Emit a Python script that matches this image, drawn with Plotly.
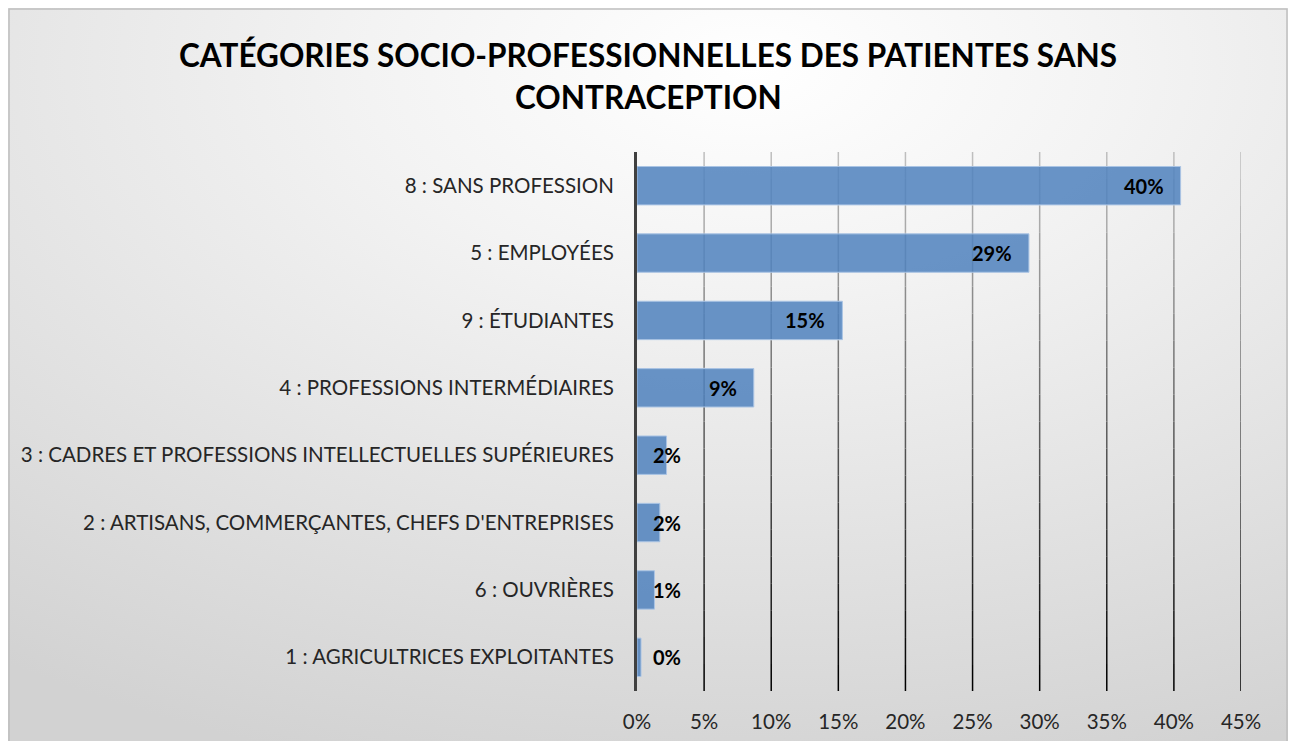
import plotly.graph_objects as go

categories = [
    "1 : AGRICULTRICES EXPLOITANTES",
    "6 : OUVRIÈRES",
    "2 : ARTISANS, COMMERÇANTES, CHEFS D'ENTREPRISES",
    "3 : CADRES ET PROFESSIONS INTELLECTUELLES SUPÉRIEURES",
    "4 : PROFESSIONS INTERMÉDIAIRES",
    "9 : ÉTUDIANTES",
    "5 : EMPLOYÉES",
    "8 : SANS PROFESSION",
]
values = [0.3, 1.3, 1.7, 2.2, 8.7, 15.3, 29.2, 40.5]
labels = ["0%", "1%", "2%", "2%", "9%", "15%", "29%", "40%"]
x_ticks = [0, 5, 10, 15, 20, 25, 30, 35, 40, 45]
x_tick_text = ["0%", "5%", "10%", "15%", "20%", "25%", "30%", "35%", "40%", "45%"]

# the page body has an 8px margin, so the figure is a bit smaller than the window
OFF = 8
W, H = 1280, 733
L, R, T, B = 629, 47, 144, 50
pw, ph = W - L - R, H - T - B

def px(x):
    # page pixel -> paper x
    return (x - OFF - L) / pw

def py(y):
    # page pixel -> paper y
    return (H - B - (y - OFF)) / ph

FONT = "Lato, 'Open Sans', sans-serif"

# background gradient (svg data uri as layout image)
bg_svg = (
    "data:image/svg+xml;utf8,"
    "<svg xmlns='http://www.w3.org/2000/svg' width='1296' height='749'>"
    "<defs><radialGradient id='g' cx='0.58' cy='0.08' r='1.0'>"
    "<stop offset='0' stop-color='%23ffffff'/>"
    "<stop offset='0.3' stop-color='%23f3f3f3'/>"
    "<stop offset='1' stop-color='%23d2d2d2'/>"
    "</radialGradient></defs>"
    "<rect width='1296' height='749' fill='url(%23g)'/></svg>"
)

fig = go.Figure()

fig.add_trace(go.Bar(
    y=categories,
    x=values,
    orientation="h",
    marker=dict(color="rgba(79,129,189,0.85)",
                line=dict(color="rgba(170,196,228,1)", width=1)),
    width=0.57,
    hoverinfo="skip",
))

label_font = dict(family=FONT, size=20, color="black", weight="bold")
annotations = []
for cat, v, lab in zip(categories, values, labels):
    if v >= 5:
        # inside end of the bar
        annotations.append(dict(x=v, y=cat, xref="x", yref="y", text=lab, showarrow=False,
                                xanchor="right", xshift=-15, font=label_font))
    else:
        # short bars: label just right of the axis, overlapping the bar end
        annotations.append(dict(x=0, y=cat, xref="x", yref="y", text=lab, showarrow=False,
                                xanchor="left", xshift=14, font=label_font))

title_font = dict(family=FONT, size=31.5, color="black", weight="bold")
annotations += [
    dict(text="CATÉGORIES SOCIO-PROFESSIONNELLES DES PATIENTES SANS",
         xref="paper", yref="paper", x=px(648), y=py(55), xanchor="center", yanchor="middle",
         showarrow=False, font=title_font),
    dict(text="CONTRACEPTION",
         xref="paper", yref="paper", x=px(648), y=py(97), xanchor="center", yanchor="middle",
         showarrow=False, font=title_font),
]

shapes = []
# gridlines fading from light grey at top to black at bottom
n_seg = 20
for t in x_ticks[1:]:
    for i in range(n_seg):
        f = i / n_seg
        c = int(200 * f)
        shapes.append(dict(
            type="line", xref="x", yref="paper", layer="below",
            x0=t, x1=t, y0=f, y1=f + 1 / n_seg,
            line=dict(color=f"rgb({c},{c},{c})", width=1.5),
        ))

# outer chart border
shapes.append(dict(
    type="rect", xref="paper", yref="paper", layer="below",
    x0=px(OFF + 1), x1=px(OFF + W - 1), y0=py(OFF + H + 5), y1=py(OFF + 1),
    line=dict(color="#bfbfbf", width=1.5), fillcolor="rgba(0,0,0,0)",
))

fig.update_layout(
    width=W, height=H,
    margin=dict(l=L, r=R, t=T, b=B, autoexpand=False),
    paper_bgcolor="white",
    plot_bgcolor="rgba(0,0,0,0)",
    showlegend=False,
    font=dict(family=FONT, size=20.5, color="#262626"),
    images=[dict(
        source=bg_svg, xref="paper", yref="paper",
        x=px(OFF), y=py(OFF), sizex=W / pw, sizey=H / ph,
        xanchor="left", yanchor="top", sizing="stretch", layer="below",
    )],
    shapes=shapes,
    annotations=annotations,
    xaxis=dict(
        range=[0, 45],
        tickvals=x_ticks,
        ticktext=x_tick_text,
        showgrid=False,
        zeroline=False,
        ticks="",
        ticklabelstandoff=16,
        automargin=False,
        tickfont=dict(family=FONT, size=20.5, color="#262626"),
        fixedrange=True,
    ),
    yaxis=dict(
        showline=True,
        linecolor="#404040",
        linewidth=3,
        showgrid=False,
        ticks="",
        ticklabelstandoff=16,
        automargin=False,
        tickfont=dict(family=FONT, size=20.5, color="#262626"),
        fixedrange=True,
    ),
)

fig.write_html("out.html")
